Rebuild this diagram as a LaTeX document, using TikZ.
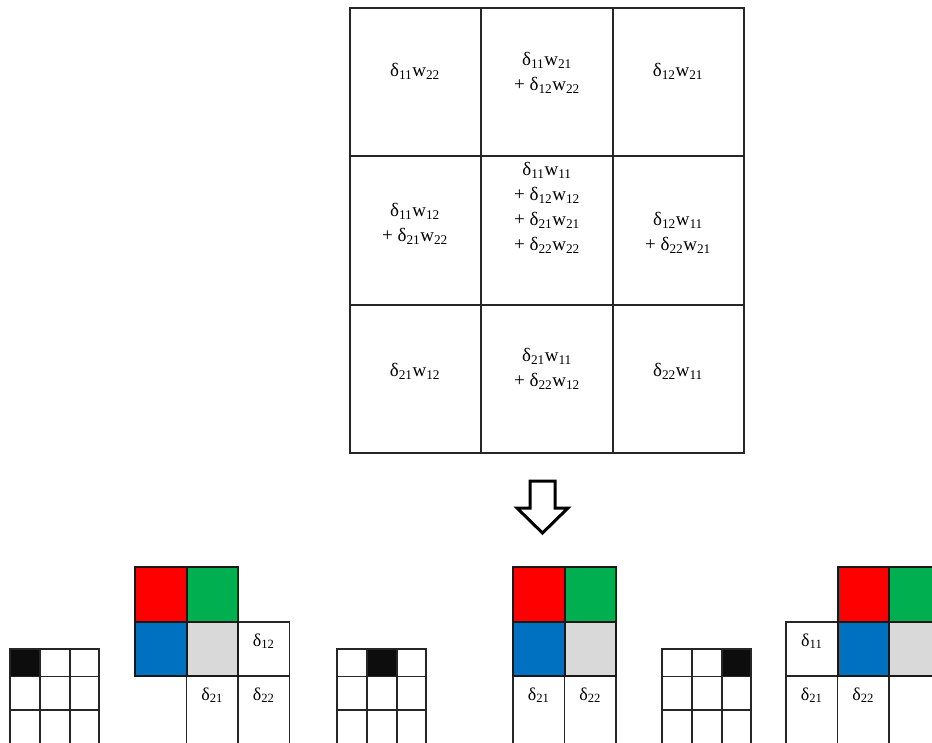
\documentclass[tikz,border=0pt]{standalone}
\usepackage{fontspec}
\setmainfont{Liberation Serif}
\definecolor{kred}{HTML}{FF0000}
\definecolor{kgreen}{HTML}{00B050}
\definecolor{kblue}{HTML}{0070C0}
\definecolor{kgray}{HTML}{D9D9D9}
\definecolor{kblack}{HTML}{0D0D0D}
\def\xBig{350}
\def\yBig{8}
\def\bw{131.33}
\def\bh{148.33}
\def\sw{29.8}
\def\kw{51.5}
\tikzset{
  gline/.style={line width=1.9pt, line cap=rect, draw=black!85},
  kline/.style={line width=2pt, draw=black!90},
  term/.style={font=\fontsize{19}{25}\selectfont, align=center, inner sep=0pt},
  dlbl/.style={font=\fontsize{18}{20}\selectfont, inner sep=0pt, anchor=base},
  downarr/.style={line width=3pt, fill=white, line join=miter},
}
\newcommand{\dw}[2]{δ\textsubscript{#1}w\textsubscript{#2}}
\newcommand{\dd}[1]{δ\textsubscript{#1}}
\newcommand{\bigterm}[4]{\node[term] (#1) at (#2,#3) {#4};}
\newcommand{\sgrid}[2]{%
  \fill[kblack] (#1+#2*\sw,649) rectangle ++(\sw,27.5);
  \foreach \col in {0,...,3}
    \draw[gline] (#1+\col*\sw,649) -- (#1+\col*\sw,760);
  \foreach \row in {649,676.5,710}
    \draw[gline] (#1,\row) -- (#1+3*\sw,\row);}
\newcommand{\kgrid}[2]{%
  \filldraw[kline, fill=kred] (#1,#2) rectangle ++(\kw,55);
  \filldraw[kline, fill=kgreen] (#1+\kw,#2) rectangle ++(\kw,55);
  \filldraw[kline, fill=kblue] (#1,#2+55) rectangle ++(\kw,54);
  \filldraw[kline, fill=kgray] (#1+\kw,#2+55) rectangle ++(\kw,54);}
\newcommand{\dcell}[5]{%
  \draw[gline] (#1,#2) rectangle ++(\kw,#3);
  \node[dlbl] (#4) at (#1+0.5*\kw,#2+24) {#5};}

\begin{document}
\begin{tikzpicture}[x=1pt, y=-1pt]
  \useasboundingbox (0,0) rectangle (932,742);
  \clip (0,0) rectangle (932,742);

  \foreach \col in {0,...,3}
    \draw[gline] (\xBig+\col*\bw,\yBig) -- (\xBig+\col*\bw,\yBig+3*\bh);
  \foreach \row in {0,...,3}
    \draw[gline] (\xBig,\yBig+\row*\bh) -- (\xBig+3*\bw,\yBig+\row*\bh);

  \bigterm{t11}{415}{71}{\dw{11}{22}}
  \bigterm{t12}{547}{73}{\dw{11}{21}\\+ \dw{12}{22}}
  \bigterm{t13}{678}{71}{\dw{12}{21}}
  \bigterm{t21}{415}{224}{\dw{11}{12}\\+ \dw{21}{22}}
  \bigterm{t22}{547}{208}{\dw{11}{11}\\+ \dw{12}{12}\\+ \dw{21}{21}\\+ \dw{22}{22}}
  \bigterm{t23}{678}{233}{\dw{12}{11}\\+ \dw{22}{21}}
  \bigterm{t31}{415}{371}{\dw{21}{12}}
  \bigterm{t32}{547}{369}{\dw{21}{11}\\+ \dw{22}{12}}
  \bigterm{t33}{678}{371}{\dw{22}{11}}

  \draw[downarr] (530,481) -- (555,481) -- (555,508) -- (568,508) -- (542.5,533)
    -- (517,508) -- (530,508) -- cycle;

  \sgrid{10}{0}
  \dcell{238}{622}{54}{pa12}{\dd{12}}
  \dcell{186.5}{676}{80}{pa21}{\dd{21}}
  \dcell{238}{676}{80}{pa22}{\dd{22}}
  \kgrid{135}{567}

  \sgrid{337}{1}
  \dcell{513}{676}{80}{pb21}{\dd{21}}
  \dcell{564.5}{676}{80}{pb22}{\dd{22}}
  \kgrid{513}{567}

  \sgrid{662}{2}
  \dcell{786}{622}{54}{pc11}{\dd{11}}
  \dcell{786}{676}{80}{pc21}{\dd{21}}
  \dcell{837.5}{676}{80}{pc22}{\dd{22}}
  \kgrid{837.5}{567}
\end{tikzpicture}
\end{document}
